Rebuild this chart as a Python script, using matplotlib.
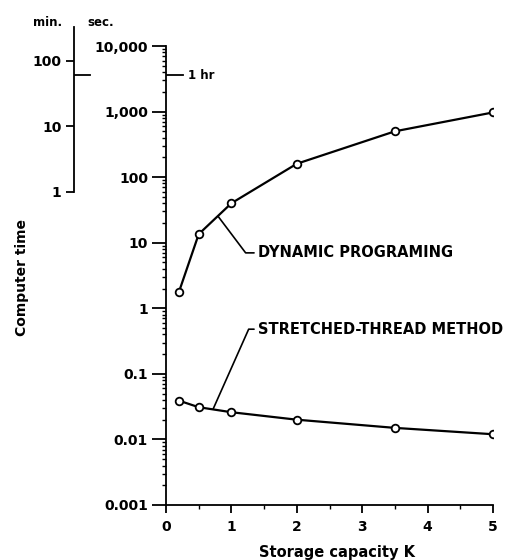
import matplotlib
matplotlib.use("Agg")
import matplotlib.pyplot as plt
from matplotlib.ticker import FixedLocator, NullFormatter, LogLocator

# storage capacity K
k_values = [0.2, 0.5, 1, 2, 3.5, 5]
# computer time in seconds
dynamic_prog = [1.8, 13.5, 40, 160, 500, 970]
stretched_thread = [0.039, 0.031, 0.026, 0.020, 0.015, 0.012]

sec_ticks = [0.001, 0.01, 0.1, 1, 10, 100, 1000, 10000]
sec_labels = ["0.001", "0.01", "0.1", "1", "10", "100", "1,000", "10,000"]
min_ticks = [1, 10, 100]
min_labels = ["1", "10", "100"]
x_ticks = [0, 1, 2, 3, 4, 5]

plt.rcParams["font.family"] = "DejaVu Sans"
plt.rcParams["font.weight"] = "bold"

W, H = 515, 560
fig = plt.figure(figsize=(W / 100, H / 100), dpi=100)

ax_left, ax_right = 166 / W, 493 / W
ax_bottom, ax_top = 1 - 505 / H, 1 - 46 / H
ax = fig.add_axes([ax_left, ax_bottom, ax_right - ax_left, ax_top - ax_bottom])

ax.plot(k_values, dynamic_prog, color="black", lw=1.6, marker="o",
        ms=5.5, mfc="white", mec="black", mew=1.3)
ax.plot(k_values, stretched_thread, color="black", lw=1.6, marker="o",
        ms=5.5, mfc="white", mec="black", mew=1.3)

ax.set_yscale("log")
ax.set_ylim(0.001, 10000)
ax.set_xlim(0, 5)
ax.spines["top"].set_visible(False)
ax.spines["right"].set_visible(False)
for s in ("left", "bottom"):
    ax.spines[s].set_linewidth(1.3)

ax.yaxis.set_major_locator(FixedLocator(sec_ticks))
ax.set_yticklabels(sec_labels)
ax.yaxis.set_minor_locator(LogLocator(base=10, subs=range(2, 10)))
ax.yaxis.set_minor_formatter(NullFormatter())
ax.tick_params(axis="y", which="major", length=10, width=1.3, pad=3, labelsize=10)
ax.tick_params(axis="y", which="minor", length=3, width=1.0)

ax.set_xticks(x_ticks)
ax.set_xticks([0.5, 1.5, 2.5, 3.5, 4.5], minor=True)
ax.tick_params(axis="x", which="major", length=6, width=1.3, pad=5, labelsize=10)
ax.tick_params(axis="x", which="minor", length=3, width=1.0)

# 1 hr marker
ax.axhline(3600, xmin=0, xmax=17 / 327, color="black", lw=1.3)
ax.text(0.33, 3600, "1 hr", fontsize=8.5, va="center", ha="left")

ax.annotate("DYNAMIC PROGRAMING", xy=(0.8, 25), xytext=(1.41, 7.0),
            fontsize=10.5, ha="left", va="center",
            arrowprops=dict(arrowstyle="-", lw=1.2, color="black",
                            shrinkA=1, shrinkB=0, relpos=(0, 0.5),
                            connectionstyle="angle,angleA=0,angleB=-53,rad=0"))
ax.annotate("STRETCHED-THREAD METHOD", xy=(0.72, 0.029), xytext=(1.41, 0.48),
            fontsize=10.5, ha="left", va="center",
            arrowprops=dict(arrowstyle="-", lw=1.2, color="black",
                            shrinkA=1, shrinkB=0, relpos=(0, 0.5),
                            connectionstyle="angle,angleA=0,angleB=66,rad=0"))

# minutes scale on the far left
max_x = 74 / W
axm = fig.add_axes([max_x, ax_bottom, ax_left - max_x, ax_top - ax_bottom])
axm.set_facecolor("none")
axm.set_yscale("log")
axm.set_ylim(0.001 / 60, 10000 / 60)
for s in ("top", "right", "bottom"):
    axm.spines[s].set_visible(False)
axm.spines["left"].set_linewidth(1.3)
axm.spines["left"].set_bounds(1, 330)
axm.set_xticks([])
axm.yaxis.set_major_locator(FixedLocator(min_ticks))
axm.set_yticklabels(min_labels)
axm.yaxis.set_minor_locator(FixedLocator([]))
axm.tick_params(axis="y", which="major", length=6, width=1.3, pad=3, labelsize=10)
axm.axhline(60, xmin=0, xmax=16 / 92, color="black", lw=1.3)

fig.text(48 / W, 1 - 22 / H, "min.", fontsize=8.5, ha="center", va="center")
fig.text(101 / W, 1 - 22 / H, "sec.", fontsize=8.5, ha="center", va="center")
fig.text(22 / W, 1 - 278 / H, "Computer time", fontsize=10, rotation=90,
         ha="center", va="center")
fig.text(337 / W, 1 - 552 / H, "Storage capacity K", fontsize=10.5,
         ha="center", va="center")

fig.savefig("out.png", dpi=100)
